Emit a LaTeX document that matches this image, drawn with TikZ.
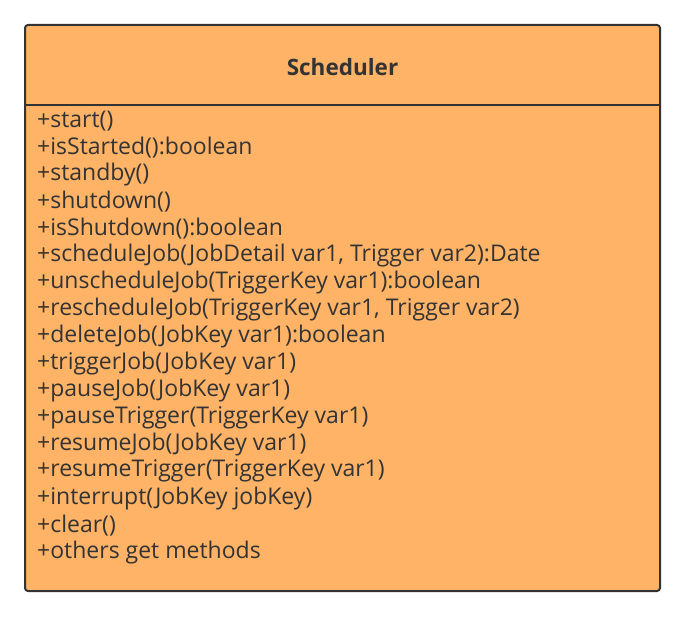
\documentclass[tikz,border=0pt]{standalone}
\usepackage{fontspec}
\setmainfont{Open Sans}
\definecolor{classfill}{HTML}{FFB366}
\definecolor{ink}{HTML}{333333}
\begin{document}
\begin{tikzpicture}[x=1pt,y=-1pt,
  classbox/.style={draw=ink,line width=2pt,fill=classfill,rounded corners=3pt},
  member/.style={anchor=west,inner sep=0pt,text=ink,font=\fontsize{23}{23}\selectfont},
  classname/.style={inner sep=0pt,text=ink,font=\fontsize{22.5}{22.5}\selectfont\bfseries}]
\useasboundingbox (0,0) rectangle (685,617);
\draw[classbox] (25,25) rectangle (660,591);
\draw[ink,line width=2pt] (25,105.5) -- (660,105.5);
\node[classname] (title) at (342.5,67) {Scheduler};
\foreach \t [count=\i from 0] in {
  +start(),
  +isStarted():boolean,
  +standby(),
  +shutdown(),
  +isShutdown():boolean,
  {+scheduleJob(JobDetail var1, Trigger var2):Date},
  +unscheduleJob(TriggerKey var1):boolean,
  {+rescheduleJob(TriggerKey var1, Trigger var2)},
  +deleteJob(JobKey var1):boolean,
  +triggerJob(JobKey var1),
  +pauseJob(JobKey var1),
  +pauseTrigger(TriggerKey var1),
  +resumeJob(JobKey var1),
  +resumeTrigger(TriggerKey var1),
  +interrupt(JobKey jobKey),
  +clear(),
  +others get methods}
  \node[member] (m\i) at (37,121+26.94*\i) {\t};
\end{tikzpicture}
\end{document}
